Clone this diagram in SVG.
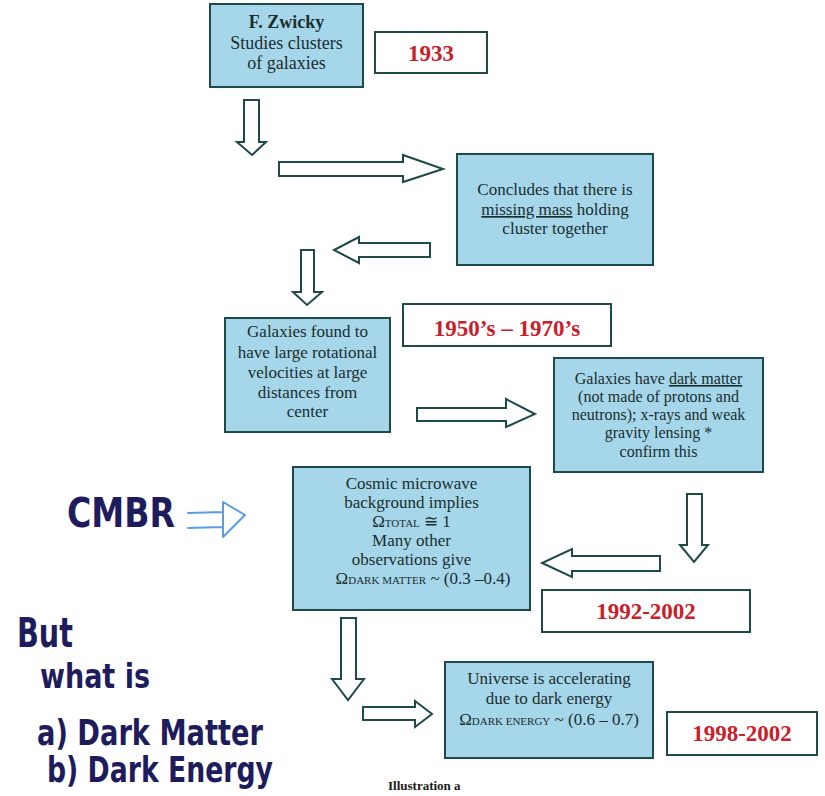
<svg xmlns="http://www.w3.org/2000/svg" width="825" height="796" viewBox="0 0 825 796">
<style>
.box{fill:#a6d6ea;stroke:#1e4a4a;stroke-width:2}
.date{fill:#ffffff;stroke:#1e4a4a;stroke-width:2}
.arr{fill:#ffffff;stroke:#1e4a4a;stroke-width:2;stroke-linejoin:miter}
.t{font-family:"Liberation Serif","Times New Roman",serif;fill:#1a2e2e;text-anchor:middle}
.d{font-family:"Liberation Serif","Times New Roman",serif;fill:#c8202a;font-weight:bold;font-size:23px;text-anchor:middle}
.h{font-family:"DejaVu Sans",sans-serif;font-weight:bold;fill:#1e1c5c}
.sub{font-size:11px}
</style>
<rect width="825" height="796" fill="#ffffff"/>

<g id="connectors">
<polygon class="arr" points="244,100 259,100 259,142 266,142 252,155 237,142 244,142"/>
<polygon class="arr" points="279,162 403,162 403,155 443,169 403,182 403,176 279,176"/>
<polygon class="arr" points="430,243 359,243 359,237 334,250 359,263 359,257 430,257"/>
<polygon class="arr" points="301,250 314,250 314,292 322,292 307,305 293,292 301,292"/>
<polygon class="arr" points="417,408 506,408 506,399 535,414 506,427 506,421 417,421"/>
<polygon class="arr" points="687,494 702,494 702,545 708,545 694,562 680,545 687,545"/>
<polygon class="arr" points="660,556 572,556 572,549 542,563 572,577 572,571 660,571"/>
<polygon class="arr" points="341,618 356,618 356,679 364,679 348,700 332,679 341,679"/>
<polygon class="arr" points="363,707 415,707 415,701 432,714 415,727 415,720 363,720"/>
</g>

<g id="zwicky">
<rect class="box" x="210" y="4" width="153" height="83"/>
<text class="t" x="286.5" y="28" font-size="18" font-weight="bold">F. Zwicky</text>
<text class="t" x="286.5" y="49" font-size="18">Studies clusters</text>
<text class="t" x="286.5" y="69" font-size="18">of  galaxies</text>
</g>

<g id="d1933">
<rect class="date" x="375" y="32" width="112" height="41"/>
<text class="d" x="431" y="61">1933</text>
</g>

<g id="missing-mass">
<rect class="box" x="457" y="154" width="196" height="111"/>
<text class="t" x="555" y="195" font-size="17">Concludes that there is</text>
<text class="t" x="555" y="215" font-size="17"><tspan text-decoration="underline">missing mass</tspan> holding</text>
<text class="t" x="555" y="234" font-size="17">cluster together</text>
</g>

<g id="rotation">
<rect class="box" x="225" y="318" width="165" height="114"/>
<text class="t" x="307.5" y="337" font-size="17">Galaxies found to</text>
<text class="t" x="307.5" y="358" font-size="17">have large rotational</text>
<text class="t" x="307.5" y="378" font-size="17">velocities at large</text>
<text class="t" x="307.5" y="398" font-size="17">distances from</text>
<text class="t" x="307.5" y="417" font-size="17">center</text>
</g>

<g id="d1950">
<rect class="date" x="403" y="304" width="208" height="42"/>
<text class="d" x="507" y="336">1950’s – 1970’s</text>
</g>

<g id="dark-matter">
<rect class="box" x="554" y="358" width="209" height="114"/>
<text class="t" x="658.5" y="384" font-size="16">Galaxies have <tspan text-decoration="underline">dark matter</tspan></text>
<text class="t" x="658.5" y="402" font-size="16">(not made of protons and</text>
<text class="t" x="658.5" y="420" font-size="16">neutrons); x-rays and weak</text>
<text class="t" x="658.5" y="438" font-size="16">gravity lensing *</text>
<text class="t" x="658.5" y="457" font-size="16">confirm this</text>
</g>

<g id="cmb">
<rect class="box" x="293" y="467" width="237" height="143"/>
<text class="t" x="411.5" y="489" font-size="17">Cosmic microwave</text>
<text class="t" x="411.5" y="508" font-size="17">background implies</text>
<text class="t" x="411.5" y="527" font-size="17">Ω<tspan class="sub">TOTAL</tspan> ≅ 1</text>
<text class="t" x="411.5" y="546" font-size="17">Many other</text>
<text class="t" x="411.5" y="565" font-size="17">observations give</text>
<text class="t" x="423" y="584" font-size="17">Ω<tspan class="sub">DARK MATTER</tspan> ~ (0.3 –0.4)</text>
</g>

<g id="d1992">
<rect class="date" x="542" y="590" width="208" height="42"/>
<text class="d" x="646" y="619">1992-2002</text>
</g>

<g id="dark-energy">
<rect class="box" x="445" y="662" width="208" height="96"/>
<text class="t" x="549" y="684" font-size="17">Universe is accelerating</text>
<text class="t" x="549" y="704" font-size="17">due to dark energy</text>
<text class="t" x="549" y="725" font-size="17">Ω<tspan class="sub">DARK ENERGY</tspan> ~ (0.6 – 0.7)</text>
</g>

<g id="d1998">
<rect class="date" x="667" y="712" width="150" height="43"/>
<text class="d" x="742" y="741">1998-2002</text>
</g>

<g id="caption">
<text x="388" y="790" font-family="Liberation Serif,serif" font-weight="bold" font-size="13" fill="#1a1a1a">Illustration a</text>
</g>

<g id="handwriting">
<text class="h" x="67" y="527" font-size="40" textLength="108" lengthAdjust="spacingAndGlyphs">CMBR</text>
<path d="M188,513 L223,512 M188,528 L223,527 M223,502 L245,515 L223,537 Z" fill="none" stroke="#5a9de3" stroke-width="2" stroke-linejoin="round" stroke-linecap="round"/>
<text class="h" x="17" y="647" font-size="40" textLength="56" lengthAdjust="spacingAndGlyphs">But</text>
<text class="h" x="40" y="688" font-size="34" textLength="110" lengthAdjust="spacingAndGlyphs">what is</text>
<text class="h" x="37" y="745" font-size="36" textLength="226" lengthAdjust="spacingAndGlyphs">a) Dark Matter</text>
<text class="h" x="47" y="782" font-size="36" textLength="226" lengthAdjust="spacingAndGlyphs">b) Dark Energy</text>
</g>
</svg>
